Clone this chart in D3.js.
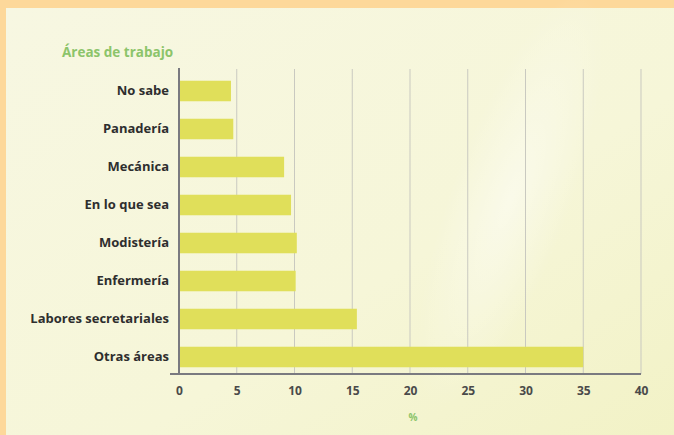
<!DOCTYPE html>
<html>
<head>
<meta charset="utf-8">
<script src="https://cdn.jsdelivr.net/npm/d3@7"></script>
<style>
  body { margin: 0; background: #fdd89a; }
  svg { display: block; }
</style>
</head>
<body>
<svg id="chart"></svg>
<script>
// Data
const categories = ["No sabe", "Panadería", "Mecánica", "En lo que sea",
                    "Modistería", "Enfermería", "Labores secretariales", "Otras áreas"];
const values = [4.5, 4.7, 9.1, 9.7, 10.2, 10.1, 15.4, 35.0];
const xTicks = [0, 5, 10, 15, 20, 25, 30, 35, 40];

const width = 674, height = 435;
const margin = {top: 70, right: 33, bottom: 61, left: 179};

const svg = d3.select("#chart")
    .attr("width", width)
    .attr("height", height);

// Background: orange frame on top/left, cream panel
const defs = svg.append("defs");
const grad = defs.append("linearGradient")
    .attr("id", "panel")
    .attr("x1", "0%").attr("y1", "0%")
    .attr("x2", "100%").attr("y2", "100%");
grad.append("stop").attr("offset", "0%").attr("stop-color", "#f7f7e2");
grad.append("stop").attr("offset", "60%").attr("stop-color", "#f6f6d8");
grad.append("stop").attr("offset", "100%").attr("stop-color", "#f2f2c6");

const glow = defs.append("radialGradient").attr("id", "glow");
glow.append("stop").attr("offset", "0%").attr("stop-color", "#ffffff").attr("stop-opacity", 0.45);
glow.append("stop").attr("offset", "100%").attr("stop-color", "#ffffff").attr("stop-opacity", 0);

svg.append("rect")
    .attr("width", width).attr("height", height)
    .attr("fill", "#fdd89a");

svg.append("rect")
    .attr("x", 6).attr("y", 8)
    .attr("width", width - 6).attr("height", height - 8)
    .attr("fill", "url(#panel)");

svg.append("ellipse")
    .attr("cx", 510).attr("cy", 200)
    .attr("rx", 60).attr("ry", 220)
    .attr("transform", "rotate(20,510,200)")
    .attr("fill", "url(#glow)");

// Scales
const x = d3.scaleLinear()
    .domain([0, 40])
    .range([margin.left, width - margin.right]);

const y = d3.scaleBand()
    .domain(categories)
    .range([margin.top + 2, height - margin.bottom + 2])
    .paddingInner(0.46)
    .paddingOuter(0.23);

// Gridlines
svg.append("g")
    .selectAll("line")
    .data(xTicks.slice(1))
    .enter().append("line")
    .attr("x1", d => x(d))
    .attr("x2", d => x(d))
    .attr("y1", margin.top - 1)
    .attr("y2", height - margin.bottom)
    .attr("stroke", "#c9c9c0")
    .attr("stroke-width", 1);

// Bars
svg.append("g")
    .selectAll("rect")
    .data(values)
    .enter().append("rect")
    .attr("x", x(0))
    .attr("y", (d, i) => y(categories[i]))
    .attr("width", d => x(d) - x(0))
    .attr("height", y.bandwidth())
    .attr("fill", "#e0df5a");

// X axis
const xAxis = svg.append("g")
    .attr("transform", `translate(0,${height - margin.bottom})`)
    .call(d3.axisBottom(x).tickValues(xTicks).tickSize(0).tickPadding(12));

xAxis.select(".domain")
    .attr("d", `M${x(0) - 9},0H${x(40)}`)
    .attr("stroke", "#7a7a80")
    .attr("stroke-width", 2);

xAxis.selectAll("text")
    .style("font-family", "'Open Sans', sans-serif")
    .style("font-weight", "bold")
    .style("font-size", "12px")
    .attr("fill", "#4a4a4a");

// Y axis
const yAxis = svg.append("g")
    .attr("transform", `translate(${margin.left},0)`)
    .call(d3.axisLeft(y).tickSize(0).tickPadding(10));

yAxis.select(".domain")
    .attr("d", `M0,${margin.top - 2}V${height - margin.bottom}`)
    .attr("stroke", "#7a7a80")
    .attr("stroke-width", 2);

yAxis.selectAll("text")
    .style("font-family", "'Open Sans', sans-serif")
    .style("font-weight", "bold")
    .style("font-size", "13px")
    .attr("fill", "#2e2e2e");

// Titles
svg.append("text")
    .attr("x", 62)
    .attr("y", 57)
    .style("font-family", "'Open Sans', sans-serif")
    .style("font-weight", "bold")
    .style("font-size", "13.5px")
    .attr("fill", "#8cc46a")
    .text("Áreas de trabajo");

svg.append("text")
    .attr("x", x(20) + 3)
    .attr("y", 421)
    .attr("text-anchor", "middle")
    .style("font-family", "'Open Sans', sans-serif")
    .style("font-weight", "bold")
    .style("font-size", "10px")
    .attr("fill", "#8cc46a")
    .text("%");
</script>
</body>
</html>
